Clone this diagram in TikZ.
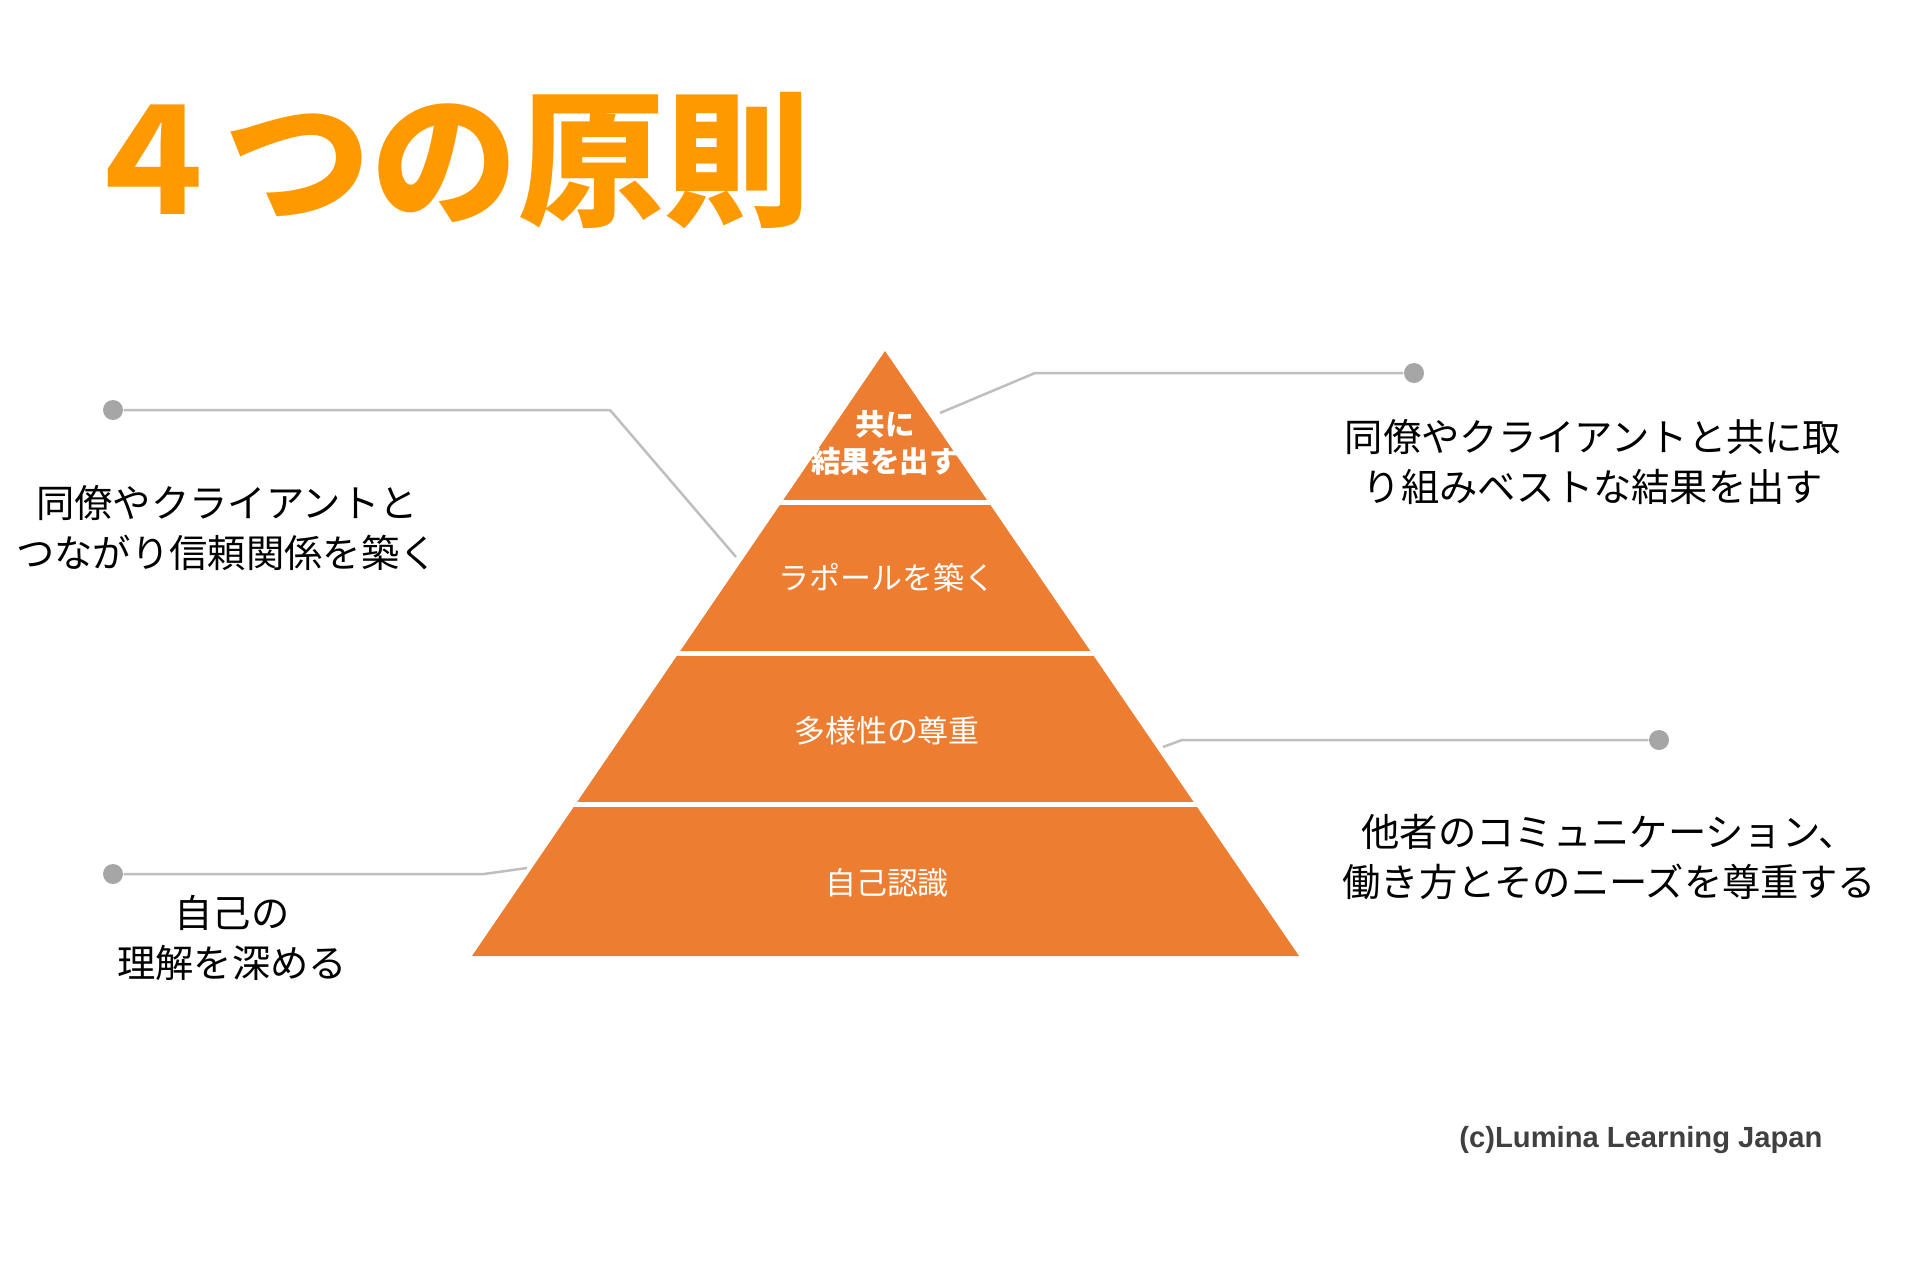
\documentclass[tikz,border=0pt]{standalone}
\usepackage{fontspec}
\setmainfont{Noto Sans CJK JP}
\newfontfamily\creditfont{Liberation Sans}
\usetikzlibrary{positioning}
\definecolor{pyramidorange}{HTML}{ED7D31}
\definecolor{titleorange}{HTML}{FF9900}
\definecolor{calloutgray}{HTML}{BFBFBF}
\definecolor{dotgray}{HTML}{A6A6A6}
\definecolor{creditgray}{HTML}{404040}
\tikzset{
  layerlabel/.style={
    text=white,
    align=center,
    font=\fontsize{8.8}{10.5}\selectfont
  },
  notetext/.style={
    text=black,
    align=center,
    font=\fontsize{10.9}{14}\selectfont
  },
  calloutline/.style={
    draw=calloutgray,
    line width=0.25mm,
    line join=round
  },
  dotnode/.style={
    circle,
    fill=dotgray,
    inner sep=0pt,
    minimum size=2mm
  },
  layergap/.style={
    draw=white,
    line width=0.5mm
  }
}

\begin{document}
\begin{tikzpicture}[x=0.1mm, y=-0.1mm]
\useasboundingbox (0,0) rectangle (1920,1280);
% title
\node[anchor=west, text=titleorange, font=\fontsize{41.7}{42}\bfseries\selectfont] (title) at (66,161) {４つの原則};
% pyramid
\fill[pyramidorange] (885,351) -- (1299,956) -- (472,956) -- cycle;
\begin{scope}
\clip (885,351) -- (1299,956) -- (472,956) -- cycle;
\foreach \yy in {502.25,653.5,804.75}
  \draw[layergap] (400,\yy) -- (1400,\yy);
\end{scope}
\node[layerlabel, font=\fontsize{8.4}{10.5}\bfseries\selectfont] (together) at (885,443) {共に\\結果を出す};
\node[layerlabel] (rapport) at (887,578) {ラポールを築く};
\node[layerlabel] (diversity) at (887,731) {多様性の尊重};
\node[layerlabel] (selfaware) at (887,883) {自己認識};
% callouts
\node[dotnode] (dotrapport) at (113,410) {};
\node[dotnode] (dottogether) at (1414,373) {};
\node[dotnode] (dotdiversity) at (1659,740) {};
\node[dotnode] (dotself) at (113,874) {};
\coordinate (endrapport) at (736,557);
\coordinate (endtogether) at (940,413);
\coordinate (enddiversity) at (1163,747);
\coordinate (endself) at (527,868);
\draw[calloutline] (dotrapport) -- (610,410) -- (endrapport);
\draw[calloutline] (endtogether) -- (1035,373) -- (dottogether);
\draw[calloutline] (enddiversity) -- (1182,740) -- (dotdiversity);
\draw[calloutline] (dotself) -- (484,874) -- (endself);
% notes
\node[notetext] (noterapport) at (227,528) {同僚やクライアントと\\つながり信頼関係を築く};
\node[notetext] (notetogether) at (1593,462) {同僚やクライアントと共に取\\り組みベストな結果を出す};
\node[notetext] (notediversity) at (1609,857) {他者のコミュニケーション、\\働き方とそのニーズを尊重する};
\node[notetext] (noteself) at (232,938) {自己の\\理解を深める};
% credit
\node[text=creditgray, font=\creditfont\fontsize{8.3}{10}\bfseries\selectfont] (credit) at (1641,1140) {(c)Lumina Learning Japan};
\end{tikzpicture}
\end{document}
